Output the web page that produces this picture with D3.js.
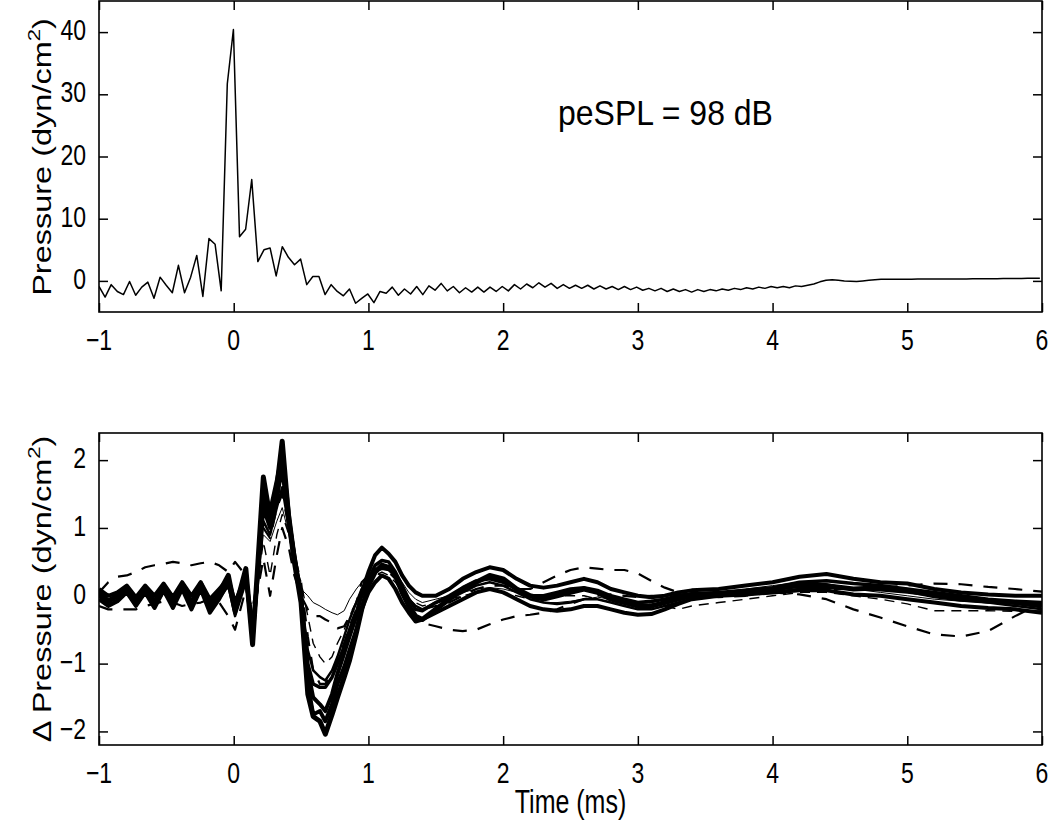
<!DOCTYPE html>
<html><head><meta charset="utf-8">
<script src="https://cdn.jsdelivr.net/npm/d3@7"></script>
<style>body{margin:0;background:#fff}svg{display:block}</style>
</head><body>
<svg id="c" width="1050" height="826"></svg>
<script>
// ---------- DATA ----------
const timeTicks = [-1, 0, 1, 2, 3, 4, 5, 6];
const topYTicks = [0, 10, 20, 30, 40];
const botYTicks = [-2, -1, 0, 1, 2];
const topStartMs = -1;
const topSampleMs = 1 / 22.05;
// top panel: sampled pressure (dyn/cm^2)
const topPressure = [
 -0.9,-2.6,-0.6,-1.7,-2.2,-0.1,-2.3,-1.0,-0.2,-2.8,
 0.6,-0.7,-1.9,2.5,-1.9,0.6,4.1,-2.5,6.8,5.9,
 -1.6,31.7,40.4,7.1,8.3,16.3,3.1,5.0,5.3,0.8,
 5.5,3.8,2.6,3.5,-0.6,0.7,0.7,-2.2,-0.6,-1.7,
 -2.4,-1.3,-3.6,-2.8,-2.1,-3.5,-1.7,-2.0,
 -1.0,-2.3,-1.3,-2.1,-0.9,-2.2,-0.8,-1.5,-0.4,-1.6,
 -0.9,-1.9,-1.1,-1.8,-1.0,-1.8,-1.0,-1.7,-0.9,-1.6,
 -0.6,-1.3,-0.5,-1.1,-0.3,-1.0,-0.4,-1.2,-0.6,-1.2,
 -0.7,-1.2,-0.7,-1.3,-0.8,-1.3,-0.9,-1.4,-0.9,-1.4,
 -1.0,-1.5,-1.2,-1.6,-1.2,-1.7,-1.3,-1.7,-1.4,-1.8,
 -1.4,-1.7,-1.4,-1.6,-1.3,-1.5,-1.2,-1.4,-1.1,-1.3,
 -1.0,-1.2,-0.9,-1.1,-0.9,-1.1,-0.8,-0.9,-0.7,-0.5,
 -0.15,0.1,0.2,0.1,0.0,-0.05,-0.1,0.0,0.1,0.2,0.25,
 0.27,0.27,0.28,0.28,0.28,0.29,0.29,0.3,0.3,0.3,0.31,0.31,0.32,
 0.32,0.33,0.33,0.34,0.35,0.36,0.37,0.38,0.39,0.4,0.41,0.42,0.43
];
const annotation = "peSPL = 98 dB";
// bottom panel: common time grid (ms)
const botTime = [
 -1.0,-0.931,-0.863,-0.794,-0.726,-0.657,-0.588,-0.52,-0.451,-0.383,-0.314,-0.245,-0.177,-0.108,-0.04,
 0.01,0.09,0.14,0.18,0.22,0.27,0.32,0.36,0.41,0.45,
 0.50,0.55,0.59,0.64,0.68,0.73,0.77,0.82,0.86,0.91,
 0.95,1.0,1.05,1.1,1.15,1.2,1.25,1.3,1.35,1.4,
 1.5,1.6,1.7,1.8,1.9,2.0,2.1,2.2,2.3,2.4,
 2.5,2.6,2.7,2.8,2.9,3.0,3.1,3.2,3.3,3.4,
 3.6,3.8,4.0,4.2,4.4,4.6,4.8,5.0,5.2,5.4,
 5.6,5.8,6.0
];
const dS1 = [
 0.05,-0.08,0.0,0.12,-0.1,0.12,-0.1,0.15,-0.1,0.15,-0.12,0.18,-0.15,0.05,0.3,
 -0.2,0.4,-0.72,0.5,1.75,1.15,1.6,2.28,1.1,0.5,
 -0.1,-1.45,-1.78,-1.85,-2.04,-1.75,-1.5,-1.2,-0.95,-0.55,
 -0.2,0.15,0.35,0.45,0.42,0.3,0.05,-0.15,-0.3,-0.35,
 -0.2,-0.05,0.1,0.2,0.3,0.25,0.1,0.0,-0.05,0.0,
 0.05,0.1,0.05,-0.05,-0.1,-0.15,-0.15,-0.1,-0.05,0.0,
 0.02,0.05,0.1,0.15,0.15,0.1,0.12,0.08,0.0,-0.05,
 -0.08,-0.1,-0.15
];
const dS2 = [
 0.1,0.0,0.05,0.15,-0.02,0.15,0.0,0.18,-0.02,0.2,0.0,0.2,-0.05,0.1,0.25,
 -0.1,0.3,-0.55,0.3,1.3,1.0,1.4,1.95,1.1,0.6,
 0.0,-1.1,-1.5,-1.6,-1.7,-1.45,-1.15,-0.85,-0.6,-0.3,
 0.05,0.35,0.6,0.71,0.62,0.5,0.3,0.15,0.05,0.0,
 0.0,0.1,0.25,0.35,0.42,0.38,0.25,0.15,0.12,0.15,
 0.2,0.25,0.2,0.1,0.05,0.0,-0.02,0.0,0.05,0.08,
 0.1,0.15,0.2,0.28,0.32,0.25,0.2,0.18,0.1,0.05,
 0.02,0.0,0.0
];
const dS3 = [
 -0.05,-0.15,-0.08,0.05,-0.15,0.05,-0.18,0.08,-0.18,0.1,-0.2,0.1,-0.25,-0.05,0.2,
 -0.25,0.35,-0.65,0.4,1.6,1.25,1.7,2.1,1.2,0.6,
 -0.05,-1.3,-1.75,-1.7,-1.85,-1.6,-1.3,-1.05,-0.8,-0.5,
 -0.2,0.05,0.2,0.3,0.25,0.1,-0.1,-0.25,-0.38,-0.35,
 -0.25,-0.15,-0.05,0.05,0.1,0.05,-0.05,-0.15,-0.2,-0.22,
 -0.2,-0.15,-0.15,-0.2,-0.25,-0.28,-0.27,-0.2,-0.12,-0.05,
 0.0,0.02,0.05,0.08,0.08,0.02,0.0,-0.05,-0.1,-0.15,
 -0.18,-0.2,-0.25
];
const dS4 = [
 0.0,-0.1,0.0,0.1,-0.1,0.1,-0.12,0.12,-0.12,0.12,-0.15,0.15,-0.2,0.0,0.25,
 -0.15,0.3,-0.6,0.35,1.45,1.1,1.55,1.8,1.15,0.55,
 -0.05,-1.0,-1.3,-1.35,-1.35,-1.2,-1.0,-0.75,-0.5,-0.25,
 0.0,0.25,0.45,0.52,0.5,0.35,0.15,-0.05,-0.2,-0.22,
 -0.1,0.0,0.12,0.22,0.25,0.2,0.1,0.0,0.0,0.05,
 0.1,0.12,0.08,0.0,-0.05,-0.1,-0.08,-0.05,0.0,0.03,
 0.05,0.08,0.12,0.2,0.22,0.18,0.15,0.1,0.05,0.0,
 -0.05,-0.08,-0.1
];
const dT1 = [
 0.05,-0.05,0.05,0.1,-0.05,0.1,-0.05,0.1,-0.05,0.1,-0.05,0.1,-0.1,0.0,0.15,
 -0.1,0.2,-0.3,0.2,0.9,0.8,1.1,1.3,0.9,0.4,
 0.1,0.0,-0.1,-0.15,-0.2,-0.25,-0.28,-0.22,-0.05,0.1,
 0.2,0.3,0.4,0.45,0.42,0.35,0.2,0.05,-0.05,-0.1,
 -0.05,0.0,0.05,0.1,0.12,0.1,0.05,-0.05,-0.1,-0.1,
 -0.08,-0.05,-0.02,-0.05,-0.1,-0.12,-0.1,-0.05,0.0,0.05,
 0.05,0.1,0.15,0.2,0.18,0.1,0.05,0.0,-0.05,-0.08,
 -0.1,-0.12,-0.15
];
const dT2 = [
 -0.05,-0.15,-0.05,0.05,-0.15,0.05,-0.15,0.05,-0.15,0.08,-0.15,0.08,-0.2,-0.05,0.15,
 -0.3,0.2,-0.45,0.4,1.1,0.9,1.3,1.6,1.0,0.5,
 0.0,-0.8,-1.1,-1.2,-1.25,-1.1,-0.9,-0.6,-0.35,-0.1,
 0.1,0.25,0.38,0.4,0.38,0.3,0.1,-0.05,-0.15,-0.2,
 -0.1,-0.05,0.05,0.15,0.2,0.15,0.05,-0.05,-0.1,-0.12,
 -0.1,-0.05,-0.05,-0.1,-0.15,-0.2,-0.2,-0.15,-0.1,-0.05,
 0.0,0.02,0.05,0.1,0.12,0.1,0.08,0.05,0.0,-0.05,
 -0.1,-0.15,-0.2
];
const dD1 = [
 0.05,0.2,0.28,0.3,0.35,0.42,0.45,0.47,0.5,0.48,0.45,0.48,0.5,0.45,0.35,
 0.5,0.3,-0.3,0.1,0.55,0.0,0.6,1.0,0.7,0.3,
 0.0,-0.2,-0.3,-0.3,-0.35,-0.4,-0.48,-0.45,-0.3,-0.1,
 0.2,0.3,0.35,0.3,0.25,0.1,-0.1,-0.25,-0.35,-0.4,
 -0.45,-0.5,-0.52,-0.5,-0.42,-0.35,-0.3,-0.28,-0.25,-0.2,
 -0.12,-0.05,0.0,0.02,0.0,-0.02,0.0,0.0,0.02,0.03,
 0.05,0.05,0.05,0.02,-0.05,-0.2,-0.32,-0.45,-0.57,-0.6,
 -0.52,-0.3,-0.1
];
const dD2 = [
 -0.15,-0.2,-0.2,-0.2,-0.2,-0.15,-0.12,-0.08,-0.1,-0.15,-0.12,-0.1,-0.05,-0.1,-0.3,
 -0.5,0.1,-0.2,0.3,1.0,0.85,1.3,1.5,1.0,0.6,
 0.2,-0.6,-1.1,-1.3,-1.3,-1.15,-0.95,-0.7,-0.45,-0.2,
 0.0,0.2,0.35,0.4,0.35,0.25,0.1,-0.05,-0.15,-0.2,
 -0.15,-0.1,0.0,0.1,0.15,0.15,0.1,0.1,0.2,0.3,
 0.38,0.42,0.4,0.38,0.38,0.33,0.22,0.12,0.05,0.0,
 -0.02,0.0,0.05,0.1,0.1,0.1,0.12,0.15,0.18,0.17,
 0.13,0.1,0.06
];
const dD3 = [
 0.0,-0.05,0.0,0.05,-0.05,0.05,-0.05,0.05,-0.05,0.05,-0.05,0.05,-0.05,0.0,0.1,
 -0.1,0.2,-0.3,0.2,0.8,0.3,0.9,1.2,0.9,0.5,
 0.2,-0.3,-0.7,-0.9,-1.0,-0.9,-0.7,-0.5,-0.3,-0.1,
 0.1,0.25,0.3,0.35,0.3,0.2,0.05,-0.05,-0.1,-0.15,
 -0.1,-0.05,0.0,0.05,0.1,0.05,0.0,-0.05,-0.05,0.0,
 0.0,0.0,-0.05,-0.1,-0.1,-0.12,-0.1,-0.15,-0.2,-0.15,
 -0.1,-0.05,0.0,0.05,0.05,0.0,-0.05,-0.12,-0.22,-0.22,
 -0.22,-0.23,-0.22
];
const botSeries = [
 {name:"D1", values:dD1, w:2.2, dash:"14,11"},
 {name:"D2", values:dD2, w:2.2, dash:"14,11"},
 {name:"D3", values:dD3, w:1.4, dash:"10,7"},
 {name:"T1", values:dT1, w:1.0, dash:null},
 {name:"T2", values:dT2, w:2.5, dash:null},
 {name:"S4", values:dS4, w:3.5, dash:null},
 {name:"S3", values:dS3, w:4.0, dash:null},
 {name:"S2", values:dS2, w:4.0, dash:null},
 {name:"S1", values:dS1, w:5.0, dash:null}
];

// ---------- DRAW ----------
const svg = d3.select("#c");
const FONT = "'Liberation Sans', Arial, sans-serif";
const SY = 1.3;
const L = 99, R = 1042;
const x = d3.scaleLinear().domain([-1, 6]).range([L, R]);
const yTop = d3.scaleLinear().domain([-5, 45]).range([312, 1]);
const yBot = d3.scaleLinear().domain([-2.2, 2.4]).range([745, 433]);
const minus = v => (v < 0 ? "\u2212" + Math.abs(v) : String(v));

function text(x0, y0, str, size, anchor, sy) {
  return svg.append("text")
    .attr("transform", `translate(${x0},${y0}) scale(1,${sy || SY})`)
    .attr("font-family", FONT).attr("font-size", size)
    .attr("text-anchor", anchor || "middle").attr("fill", "#000").text(str);
}

function panel(y, yTicks, clipId) {
  const [b, t] = y.range();
  svg.append("defs").append("clipPath").attr("id", clipId)
    .append("rect").attr("x", L).attr("y", t).attr("width", R - L).attr("height", b - t);
  const g = svg.append("g");
  const tk = 9;
  g.append("g").attr("transform", `translate(0,${b})`)
    .call(d3.axisBottom(x).tickValues(timeTicks).tickSizeInner(-tk).tickSizeOuter(0).tickFormat(""));
  g.append("g").attr("transform", `translate(0,${t})`)
    .call(d3.axisTop(x).tickValues(timeTicks).tickSizeInner(-tk).tickSizeOuter(0).tickFormat(""));
  g.append("g").attr("transform", `translate(${L},0)`)
    .call(d3.axisLeft(y).tickValues(yTicks).tickSizeInner(-tk).tickSizeOuter(0).tickFormat(""));
  g.append("g").attr("transform", `translate(${R},0)`)
    .call(d3.axisRight(y).tickValues(yTicks).tickSizeInner(-tk).tickSizeOuter(0).tickFormat(""));
  g.selectAll(".domain").remove();
  g.selectAll(".tick line").attr("stroke", "#000").attr("stroke-width", 1.5);
  svg.append("rect").attr("x", L).attr("y", t).attr("width", R - L).attr("height", b - t)
    .attr("fill", "none").attr("stroke", "#000").attr("stroke-width", 1.6);
  timeTicks.forEach(v => text(x(v), b + 38, minus(v), 23));
  yTicks.forEach(v => text(L - 13, y(v) + 8, minus(v), 23, "end"));
}

function ylabel(cx, cy, prefix, size) {
  const tEl = svg.append("text")
    .attr("transform", `translate(${cx},${cy}) scale(1,${SY}) rotate(-90)`)
    .attr("font-family", FONT).attr("font-size", size).attr("text-anchor", "middle").attr("fill", "#000");
  tEl.append("tspan").text(prefix + "Pressure (dyn/cm");
  tEl.append("tspan").attr("font-size", size * 0.68).attr("dy", -size * 0.45).text("2");
  tEl.append("tspan").attr("dy", size * 0.45).text(")");
}

// top panel
panel(yTop, topYTicks, "clipTop");
const topLine = d3.line()
  .x((d, i) => x(topStartMs + i * topSampleMs))
  .y(d => yTop(d));
svg.append("path").datum(topPressure).attr("d", topLine)
  .attr("clip-path", "url(#clipTop)")
  .attr("fill", "none").attr("stroke", "#000").attr("stroke-width", 1.5).attr("stroke-linejoin", "round");
text(558, 125, annotation, 32, "start", 1.12);
ylabel(51, 157, "", 25);

// bottom panel
panel(yBot, botYTicks, "clipBot");
const botLine = d3.line().x((d, i) => x(botTime[i])).y(d => yBot(d));
const gB = svg.append("g").attr("clip-path", "url(#clipBot)");
botSeries.forEach(s => {
  gB.append("path").datum(s.values).attr("d", botLine)
    .attr("fill", "none").attr("stroke", "#000").attr("stroke-width", s.w)
    .attr("stroke-linejoin", "round")
    .attr("stroke-dasharray", s.dash);
});
ylabel(51, 589, "\u0394 ", 25);
text((L + R) / 2, 813, "Time (ms)", 25);
</script>
</body></html>
